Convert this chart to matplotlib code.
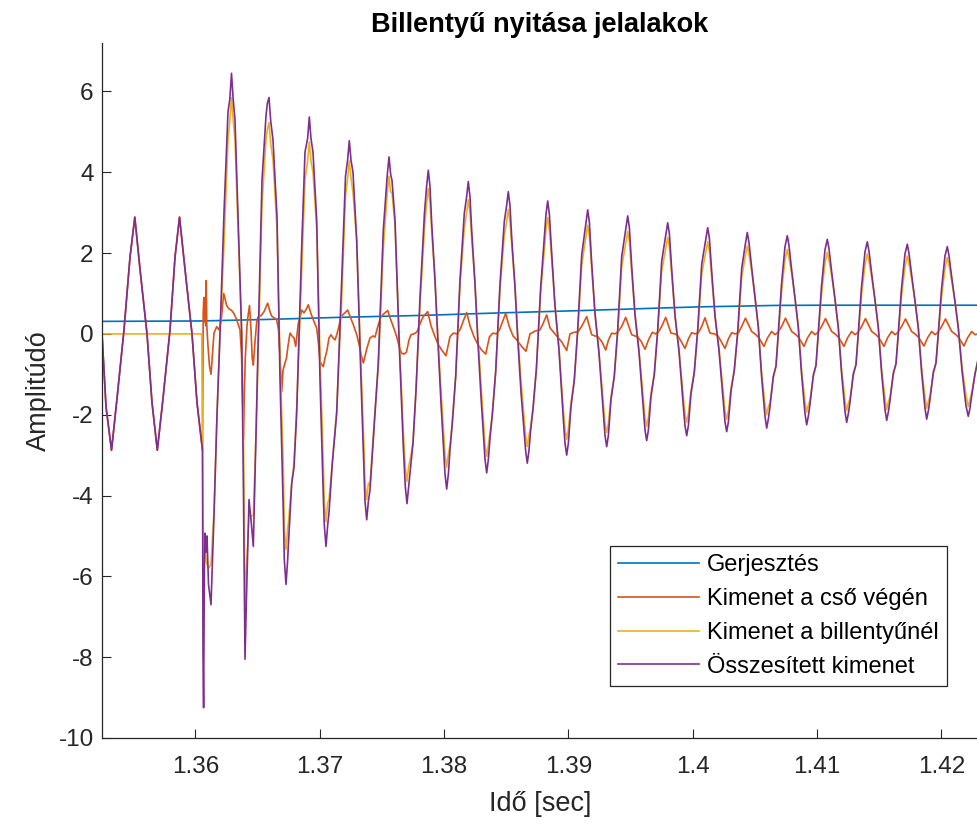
import numpy as np
import matplotlib
matplotlib.use('Agg')
import matplotlib.pyplot as plt
from matplotlib.ticker import FormatStrFormatter

plt.rcParams['font.family'] = ['Liberation Sans', 'DejaVu Sans']
plt.rcParams['axes.unicode_minus'] = False

# time values are in ms after 1.35 s
t_start = 1.35

# before the key opens: tube output only (total = tube output here)
t_pre_ms = [2.500, 2.822, 3.264, 3.706, 4.269, 4.752, 5.138, 5.556, 6.119,
            6.521, 6.947, 7.406, 7.969, 8.371, 8.733, 9.175, 9.738, 10.140]
v_pre = [0.0, -1.8, -2.88, -1.6, 0.1, 1.9, 2.89, 1.6, 0.0,
         -1.7, -2.88, -1.6, 0.1, 1.9, 2.89, 1.6, 0.0, -1.7]

# excitation
t_exc_ms = [2.5, 10.381, 16.011, 21.640, 28.476, 34.507, 41.343, 47.374,
            50.591, 54.210, 56.623, 60.242, 72.948]
v_exc = [0.31, 0.32, 0.36, 0.41, 0.46, 0.52, 0.58, 0.64,
         0.67, 0.69, 0.705, 0.71, 0.71]

# total output and key output after the opening (same time points)
t_sum_ms = [
    10.582, 10.622, 10.671, 10.727, 10.783, 10.864, 10.944, 11.065, 11.266, 11.507,
    11.748, 11.990, 12.311, 12.633, 12.914, 13.196, 13.477, 13.735, 13.879, 14.000,
    14.121, 14.322, 14.483, 14.668, 14.885, 15.070, 15.367, 15.689, 15.930, 16.252,
    16.574, 16.815, 17.080, 17.297, 17.482, 17.756, 17.941, 18.158, 18.560, 18.825,
    19.171, 19.469, 19.766, 20.032, 20.297, 20.514, 20.755, 21.021, 21.375, 21.777,
    22.082, 22.388, 22.685, 22.983, 23.329, 23.594, 23.787, 24.053, 24.318, 24.720,
    25.122, 25.581, 25.822, 26.063, 26.409, 26.731, 27.028, 27.350, 27.511, 27.752,
    28.074, 28.435, 28.741, 29.014, 29.280, 29.497, 29.762, 30.221, 30.486, 30.671,
    30.945, 31.290, 31.636, 31.958, 32.231, 32.497, 32.714, 32.979, 33.438, 33.703,
    33.888, 34.162, 34.507, 34.853, 35.175, 35.448, 35.714, 35.931, 36.196, 36.703,
    36.968, 37.161, 37.435, 37.780, 38.126, 38.343, 38.665, 38.930, 39.252, 39.598,
    39.871, 40.217, 40.482, 40.756, 41.077, 41.560, 41.882, 42.147, 42.469, 42.815,
    43.088, 43.434, 43.699, 43.973, 44.294, 44.777, 45.099, 45.364, 45.686, 46.032,
    46.305, 46.651, 46.916, 47.190, 47.511, 47.994, 48.316, 48.581, 48.903, 49.249,
    49.522, 49.868, 50.133, 50.407, 50.728, 51.211, 51.533, 51.798, 52.120, 52.466,
    52.739, 53.085, 53.350, 53.624, 53.945, 54.395, 54.741, 55.014, 55.280, 55.545,
    55.818, 55.955, 56.221, 56.486, 56.703, 56.888, 57.153, 57.427, 57.612, 57.958,
    58.231, 58.497, 58.762, 59.035, 59.172, 59.438, 59.703, 59.920, 60.105, 60.370,
    60.644, 60.829, 61.175, 61.448, 61.714, 61.979, 62.252, 62.389, 62.655, 62.920,
    63.137, 63.322, 63.587, 63.861, 64.046, 64.392, 64.665, 64.931, 65.196, 65.469,
    65.606, 65.872, 66.137, 66.354, 66.539, 66.804, 67.078, 67.263, 67.609, 67.882,
    68.148, 68.413, 68.686, 68.823, 69.089, 69.354, 69.571, 69.756, 70.021, 70.295,
    70.480, 70.826, 71.099, 71.365, 71.661, 71.983, 72.168, 72.433, 72.707, 72.948]
v_sum = [
    -2.88, -7.9, -9.25, -6.0, -4.93, -5.4, -5.0, -6.2, -6.7, -4.5,
    -2.0, 0.0, 3.0, 5.5, 6.45, 5.3, 2.5, 0.0, -4.0, -8.05,
    -6.5, -4.1, -4.6, -5.26, -2.5, 0.0, 3.8, 5.4, 5.85, 4.8,
    2.9, -1.1, -4.4, -6.2, -5.26, -3.7, -3.3, -1.96, 2.16, 4.5,
    5.37, 4.5, 2.82, -1.14, -4.0, -5.26, -4.43, -3.2, -1.96, 1.33,
    3.9, 4.78, 4.0, 2.32, -1.14, -3.6, -4.6, -3.86, -2.62, -0.72,
    2.57, 4.38, 3.8, 2.82, -0.31, -2.79, -4.2, -3.2, -2.7, -1.4,
    0.9, 3.0, 4.05, 2.74, 1.33, -0.07, -1.71, -3.84, -2.87, -2.21,
    -1.05, 1.33, 2.98, 3.77, 2.56, 1.24, -0.1, -1.55, -3.44, -2.58,
    -2.0, -0.93, 1.23, 2.78, 3.52, 2.39, 1.16, -0.1, -1.44, -3.2,
    -2.4, -1.86, -0.86, 1.15, 2.6, 3.29, 2.0, 0.7, -0.4, -2.1,
    -3.0, -1.8, -1.15, 0.1, 1.95, 3.07, 1.75, 0.51, -0.48, -1.96,
    -2.79, -1.63, -1.05, 0.1, 1.91, 2.92, 1.67, 0.48, -0.45, -1.85,
    -2.64, -1.55, -1.0, 0.1, 1.8, 2.75, 1.6, 0.46, -0.43, -1.78,
    -2.52, -1.48, -0.95, 0.1, 1.72, 2.63, 1.55, 0.45, -0.41, -1.7,
    -2.42, -1.42, -0.9, 0.05, 1.62, 2.51, 1.66, 0.92, 0.18, -1.05,
    -2.04, -2.33, -1.8, -1.05, -0.8, 0.02, 1.25, 2.16, 2.43, 1.6,
    0.89, 0.17, -1.0, -1.97, -2.25, -1.74, -1.02, -0.78, 0.02, 1.2,
    2.08, 2.34, 1.55, 0.86, 0.16, -0.98, -1.92, -2.19, -1.69, -0.99,
    -0.76, 0.02, 1.18, 2.03, 2.28, 1.51, 0.84, 0.16, -0.96, -1.87,
    -2.14, -1.65, -0.97, -0.74, 0.02, 1.15, 1.98, 2.22, 1.47, 0.82,
    0.15, -0.94, -1.84, -2.11, -1.62, -0.95, -0.72, 0.02, 1.12, 1.93,
    2.16, 1.43, 0.8, 0.15, -0.9, -1.78, -2.04, -1.55, -1.0, -0.64]
v_key = [
    -2.88, -5.0, -6.5, -5.2, -5.0, -5.6, -5.7, -5.8, -5.7, -4.4,
    -2.0, 0.0, 2.2, 4.8, 5.85, 4.8, 2.3, 0.0, -2.5, -6.7,
    -5.8, -4.5, -4.5, -4.5, -2.5, -0.4, 3.2, 4.8, 5.23, 4.3,
    2.6, -0.6, -3.2, -5.34, -4.7, -3.7, -3.2, -1.8, 1.6, 3.8,
    4.75, 4.0, 2.6, -0.5, -3.2, -4.64, -4.1, -3.2, -1.9, 0.9,
    3.4, 4.28, 3.5, 2.3, -0.8, -3.0, -4.1, -3.75, -2.5, -0.8,
    2.1, 3.9, 3.5, 2.7, -0.15, -2.4, -3.65, -3.0, -2.7, -1.4,
    0.7, 2.6, 3.6, 2.55, 1.35, 0.0, -1.4, -3.3, -2.75, -2.2,
    -1.05, 1.2, 2.6, 3.32, 2.35, 1.25, 0.0, -1.25, -3.03, -2.45,
    -2.0, -0.93, 1.1, 2.43, 3.08, 2.2, 1.17, 0.0, -1.15, -2.79,
    -2.3, -1.86, -0.86, 1.05, 2.25, 2.88, 1.85, 0.7, -0.35, -1.85,
    -2.61, -1.7, -1.15, 0.05, 1.7, 2.69, 1.6, 0.5, -0.43, -1.7,
    -2.44, -1.55, -1.05, 0.05, 1.65, 2.53, 1.52, 0.47, -0.4, -1.6,
    -2.29, -1.47, -1.0, 0.05, 1.55, 2.39, 1.45, 0.45, -0.38, -1.55,
    -2.19, -1.4, -0.95, 0.05, 1.48, 2.28, 1.4, 0.44, -0.36, -1.48,
    -2.11, -1.34, -0.9, 0.0, 1.4, 2.18, 1.56, 0.92, 0.18, -0.95,
    -1.75, -2.0, -1.7, -1.1, -0.8, -0.03, 1.05, 1.83, 2.09, 1.5,
    0.89, 0.17, -0.9, -1.68, -1.94, -1.64, -1.07, -0.78, -0.03, 1.0,
    1.75, 2.02, 1.45, 0.86, 0.16, -0.88, -1.63, -1.9, -1.6, -1.04,
    -0.76, -0.03, 0.98, 1.7, 1.98, 1.41, 0.84, 0.16, -0.86, -1.59,
    -1.87, -1.56, -1.02, -0.74, -0.03, 0.95, 1.66, 1.93, 1.37, 0.82,
    0.15, -0.84, -1.56, -1.84, -1.53, -1.0, -0.72, -0.03, 0.92, 1.62,
    1.89, 1.33, 0.8, 0.15, -0.8, -1.52, -1.8, -1.47, -0.98, -0.65]

# extra samples read close to the tops and bottoms of the waves (rounded tips)
t_tips_ms = [
    12.777, 13.051, 15.793, 16.067, 19.034, 19.308, 22.251, 22.525, 25.444, 25.718,
    28.604, 28.878, 31.821, 32.095, 35.038, 35.312, 38.206, 38.480, 41.423, 41.697,
    44.640, 44.914, 47.857, 48.131, 51.074, 51.348, 54.258, 54.532, 57.749, 60.966,
    64.183, 67.400, 70.617,
    17.160, 17.434, 20.377, 20.651, 23.650, 23.924, 26.891, 27.165, 30.084, 30.358,
    33.301, 33.575, 36.566, 36.840, 39.734, 40.008, 42.951, 43.225, 46.168, 46.442,
    49.385, 49.659, 52.602, 52.876, 56.092, 59.309, 62.526, 65.743, 68.960, 72.305]
v_sum_tips = [
    5.8, 5.8, 5.7, 5.27, 4.83, 4.83, 4.3, 4.3, 3.94, 3.94,
    3.65, 3.65, 3.39, 3.39, 3.17, 3.17, 2.96, 2.96, 2.76, 2.76,
    2.63, 2.63, 2.48, 2.48, 2.37, 2.37, 2.26, 2.26, 2.19, 2.11,
    2.05, 2.0, 1.94,
    -5.58, -5.58, -4.73, -4.73, -4.14, -4.14, -3.78, -3.78, -3.46, -3.46,
    -3.1, -3.1, -2.88, -2.88, -2.7, -2.7, -2.51, -2.51, -2.38, -2.38,
    -2.27, -2.27, -2.18, -2.18, -2.1, -2.03, -1.97, -1.93, -1.9, -1.84]
v_key_tips = [
    5.27, 5.27, 5.05, 4.71, 4.28, 4.28, 3.85, 3.85, 3.51, 3.51,
    3.24, 3.24, 2.99, 2.99, 2.77, 2.77, 2.59, 2.59, 2.42, 2.42,
    2.28, 2.28, 2.15, 2.15, 2.05, 2.05, 1.96, 1.96, 1.88, 1.82,
    1.78, 1.74, 1.7,
    -4.81, -4.81, -4.18, -4.18, -3.69, -3.69, -3.29, -3.29, -2.97, -2.97,
    -2.73, -2.73, -2.51, -2.51, -2.35, -2.35, -2.2, -2.2, -2.06, -2.06,
    -1.97, -1.97, -1.9, -1.9, -1.8, -1.75, -1.71, -1.68, -1.66, -1.62]

# key output is zero until the key opens
t_key_closed_ms = [2.5, 10.518]
v_key_closed = [0.0, 0.0]

# tube end output after the opening
t_tube_ms = [
    10.582, 10.638, 10.687, 10.727, 10.783, 10.840, 10.880, 10.928, 11.025, 11.145,
    11.266, 11.386, 11.507, 11.724, 11.909, 12.070, 12.287, 12.528, 12.713, 12.930,
    13.115, 13.333, 13.598, 13.719, 13.815, 13.879, 13.944, 14.024, 14.161, 14.265,
    14.362, 14.483, 14.579, 14.668, 14.804, 14.941, 15.070, 15.287, 15.528, 15.826,
    16.011, 16.147, 16.332, 16.549, 16.694, 16.815, 16.951, 17.056, 17.217, 17.337,
    17.458, 17.619, 17.780, 17.941, 18.077, 18.286, 18.423, 18.560, 18.745, 18.906,
    19.091, 19.308, 19.493, 19.766, 19.895, 20.032, 20.152, 20.297, 20.434, 20.595,
    20.755, 20.916, 21.077, 21.238, 21.399, 21.560, 21.720, 21.962, 22.259, 22.484,
    22.685, 22.983, 23.168, 23.329, 23.514, 23.650, 23.811, 24.053, 24.294, 24.455,
    24.696, 24.937, 25.178, 25.476, 25.661, 25.902, 26.200, 26.385, 26.602, 26.787,
    26.988, 27.189, 27.350, 27.591, 27.832, 28.074, 28.339, 28.693, 28.958, 29.280,
    29.521, 29.819, 30.164, 30.486, 30.752, 31.049, 31.290, 31.532, 31.829, 32.095,
    32.416, 32.658, 32.979, 33.357, 33.663, 33.944, 34.226, 34.467, 34.708, 34.966,
    35.231, 35.553, 35.850, 36.252, 36.598, 36.920, 37.322, 37.724, 37.965, 38.263,
    38.528, 38.930, 39.469, 39.871, 40.137, 40.459, 40.779, 41.102, 41.480, 41.882,
    42.413, 42.710, 43.008, 43.233, 43.490, 43.755, 43.997, 44.318, 44.616, 45.099,
    45.605, 45.887, 46.168, 46.450, 46.755, 47.012, 47.254, 47.535, 47.833, 48.259,
    48.581, 48.822, 49.103, 49.385, 49.666, 49.923, 50.189, 50.471, 50.752, 50.993,
    51.395, 51.757, 52.039, 52.320, 52.602, 52.883, 53.140, 53.406, 53.687, 53.969,
    54.250, 54.749, 55.095, 55.336, 55.738, 56.020, 56.357, 56.623, 56.864, 57.186,
    57.467, 57.966, 58.312, 58.553, 58.955, 59.237, 59.574, 59.840, 60.081, 60.403,
    60.684, 61.183, 61.529, 61.770, 62.172, 62.454, 62.791, 63.057, 63.298, 63.620,
    63.901, 64.400, 64.746, 64.987, 65.389, 65.671, 66.008, 66.274, 66.515, 66.837,
    67.118, 67.617, 67.963, 68.204, 68.606, 68.888, 69.225, 69.491, 69.732, 70.054,
    70.335, 70.834, 71.180, 71.421, 71.823, 72.105, 72.442, 72.708, 72.948]
v_tube = [
    -2.88, 0.5, 0.9, 0.3, 0.9, 0.2, 1.32, 0.2, -0.3, -0.8,
    -1.0, -0.5, 0.02, 0.18, 0.1, 0.3, 1.0, 0.7, 0.62, 0.58,
    0.5, 0.35, 0.1, -0.5, -1.8, -2.6, -1.5, -0.6, 0.2, 0.5,
    0.7, 0.1, -0.6, -0.77, -0.2, 0.3, 0.43, 0.45, 0.55, 0.76,
    0.55, 0.44, 0.4, 0.35, 0.1, -0.56, -1.43, -0.9, -0.72, -0.6,
    -0.3, 0.02, -0.05, -0.1, -0.31, 0.26, 0.4, 0.59, 0.52, 0.6,
    0.72, 0.5, 0.35, 0.14, -0.2, -0.68, -0.75, -0.81, -0.6, -0.4,
    -0.1, -0.02, -0.1, -0.15, 0.0, 0.2, 0.43, 0.5, 0.59, 0.4,
    0.25, -0.02, -0.25, -0.5, -0.72, -0.55, -0.35, -0.1, -0.05, -0.08,
    0.2, 0.43, 0.5, 0.58, 0.4, 0.2, -0.07, -0.3, -0.48, -0.5,
    -0.45, -0.15, -0.02, 0.0, 0.05, 0.25, 0.43, 0.55, 0.2, -0.07,
    -0.25, -0.4, -0.54, -0.07, 0.02, 0.0, 0.1, 0.3, 0.53, 0.2,
    -0.07, -0.22, -0.38, -0.5, -0.07, 0.02, 0.0, 0.1, 0.3, 0.51,
    0.2, -0.05, -0.15, -0.31, -0.43, 0.0, 0.07, 0.1, 0.25, 0.47,
    0.15, 0.0, -0.2, -0.41, 0.0, 0.04, 0.05, 0.2, 0.43, -0.02,
    -0.08, -0.2, -0.4, -0.15, 0.02, 0.0, 0.05, 0.2, 0.41, -0.02,
    -0.08, -0.2, -0.38, -0.15, 0.04, 0.0, 0.05, 0.2, 0.41, 0.02,
    0.0, -0.05, -0.2, -0.36, -0.12, 0.03, 0.0, 0.03, 0.2, 0.4,
    0.02, 0.0, -0.05, -0.2, -0.36, -0.12, 0.03, 0.0, 0.03, 0.2,
    0.39, 0.06, -0.02, -0.1, -0.31, -0.1, 0.06, -0.02, 0.04, 0.2,
    0.39, 0.06, -0.02, -0.1, -0.31, -0.1, 0.06, -0.02, 0.04, 0.2,
    0.38, 0.06, -0.02, -0.1, -0.31, -0.1, 0.06, -0.02, 0.04, 0.2,
    0.38, 0.06, -0.02, -0.1, -0.31, -0.1, 0.06, -0.02, 0.04, 0.2,
    0.37, 0.06, -0.02, -0.1, -0.3, -0.1, 0.06, -0.02, 0.04, 0.2,
    0.37, 0.06, -0.02, -0.1, -0.3, -0.1, 0.06, -0.02, 0.0]

x_ticks = [1.36, 1.37, 1.38, 1.39, 1.40, 1.41, 1.42]
y_ticks = [-10, -8, -6, -4, -2, 0, 2, 4, 6]
labels = ['Gerjesztés', 'Kimenet a cső végén', 'Kimenet a billentyűnél', 'Összesített kimenet']
colors = ['#0072BD', '#D95319', '#EDB120', '#7E2F8E']


def sec(ms):
    return t_start + np.array(ms) / 1000.0


# merge the tip samples into the main samples, in time order
t_all = np.array(t_sum_ms + t_tips_ms)
order = np.argsort(t_all)
t_all = list(t_all[order])
v_sum_all = list(np.array(v_sum + v_sum_tips)[order])
v_key_all = list(np.array(v_key + v_key_tips)[order])

fig = plt.figure(figsize=(9.78, 8.25), dpi=100)
ax = fig.add_axes([0.1043, 0.1055, 0.8957, 0.8424])

lw = 1.2
ax.plot(sec(t_exc_ms), v_exc, color=colors[0], lw=lw, label=labels[0])
ax.plot(sec(t_pre_ms + t_tube_ms), v_pre + v_tube, color=colors[1], lw=lw, label=labels[1])
ax.plot(sec(t_key_closed_ms + t_all), v_key_closed + v_key_all, color=colors[2], lw=lw, label=labels[2])
ax.plot(sec(t_pre_ms + t_all), v_pre + v_sum_all, color=colors[3], lw=lw, label=labels[3])

ax.set_xlim(1.3525, 1.42295)
ax.set_ylim(-10, 7.2)
ax.set_xticks(x_ticks)
ax.set_yticks(y_ticks)
ax.xaxis.set_major_formatter(FormatStrFormatter('%g'))

ax.spines['top'].set_visible(False)
ax.spines['right'].set_visible(False)
for s in ['left', 'bottom']:
    ax.spines[s].set_color('#262626')
    ax.spines[s].set_linewidth(0.9)
ax.tick_params(direction='in', length=6.5, width=0.8, colors='#262626', labelsize=17.5)
ax.tick_params(axis='x', pad=13)
ax.tick_params(axis='y', pad=6)

ax.set_title('Billentyű nyitása jelalakok', fontsize=19.5, fontweight='bold', pad=8)
ax.set_xlabel('Idő [sec]', fontsize=19.5, color='#262626', labelpad=9)
ax.set_ylabel('Amplitúdó', fontsize=19.5, color='#262626', labelpad=5)

leg = ax.legend(loc='lower right', bbox_to_anchor=(0.9646, 0.0748), borderaxespad=0,
                fontsize=17, fancybox=False, framealpha=1, edgecolor='#262626',
                handlelength=3.4, handletextpad=0.35, labelspacing=0.5,
                borderpad=0.35)
leg.get_frame().set_linewidth(0.9)

fig.savefig('out.png', dpi=100)
